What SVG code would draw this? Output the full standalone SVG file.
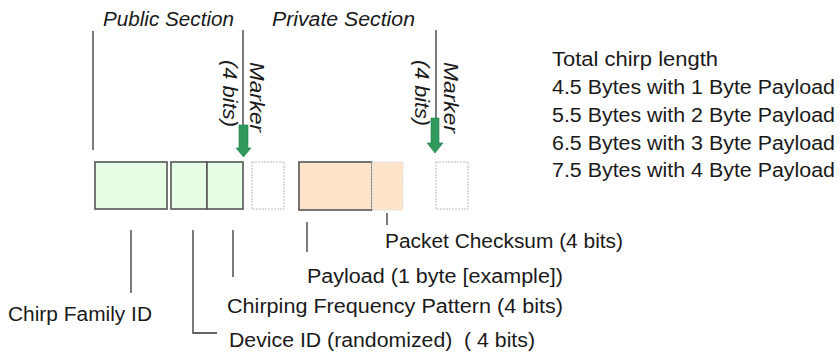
<svg xmlns="http://www.w3.org/2000/svg" width="840" height="355" viewBox="0 0 840 355">
<style>
text{font-family:"Liberation Sans",Arial,sans-serif;font-size:20px;fill:#1a1a1a}
.it{font-style:italic}
.ln{stroke:#333;stroke-width:1.3;fill:none}
.gbox{fill:#e5fce5;stroke:#555;stroke-width:1.6}
.obox{fill:#fde4cb;stroke:#555;stroke-width:1.6}
.olt{fill:#fde4cb;stroke:#ddd;stroke-width:1;stroke-dasharray:2 1}
.empty{fill:#fff;stroke:#bbb;stroke-width:1;stroke-dasharray:2 1}
.arr{fill:#2f9a5c;stroke:#1f7a45;stroke-width:0.6}
</style>
<rect width="840" height="355" fill="#fff"/>
<g id="titles">
<text class="it" x="103" y="26" textLength="131" lengthAdjust="spacingAndGlyphs">Public Section</text>
<text class="it" x="272" y="26" textLength="143" lengthAdjust="spacingAndGlyphs">Private Section</text>
</g>
<g id="chirp-family-id"><rect class="gbox" x="95" y="162" width="72" height="47"/></g>
<g id="device-id"><rect class="gbox" x="171" y="162" width="36" height="47"/></g>
<g id="chirping-frequency-pattern"><rect class="gbox" x="207" y="162" width="36" height="47"/></g>
<g id="marker-1">
<rect class="empty" x="252" y="162" width="32" height="47"/>
<text class="it" transform="translate(250,62) rotate(90)" textLength="70" lengthAdjust="spacingAndGlyphs">Marker</text>
<text class="it" transform="translate(223,60) rotate(90)" textLength="67" lengthAdjust="spacingAndGlyphs">(4 bits)</text>
</g>
<g id="payload"><rect class="obox" x="299" y="162" width="73" height="48"/></g>
<g id="packet-checksum"><rect class="olt" x="372" y="162" width="31" height="48"/></g>
<g id="marker-2">
<rect class="empty" x="436" y="162" width="32" height="47"/>
<text class="it" transform="translate(444,62) rotate(90)" textLength="71" lengthAdjust="spacingAndGlyphs">Marker</text>
<text class="it" transform="translate(415,60) rotate(90)" textLength="66" lengthAdjust="spacingAndGlyphs">(4 bits)</text>
</g>
<g id="connectors">
<line class="ln" x1="93" y1="31" x2="93" y2="150"/>
<line class="ln" x1="243" y1="30" x2="243" y2="125"/>
<line class="ln" x1="436" y1="30" x2="436" y2="118"/>
<path class="arr" d="M239,125 H248 V148 H251 L243.5,157 L236,148 H239 Z"/>
<path class="arr" d="M431,118 H439 V143 H443 L435,153 L427,143 H431 Z"/>
<line class="ln" x1="131" y1="230" x2="131" y2="293"/>
<polyline class="ln" points="193,230 193,333 217,333"/>
<line class="ln" x1="233" y1="230" x2="233" y2="277"/>
<line class="ln" x1="307" y1="222" x2="307" y2="252"/>
<line class="ln" x1="387" y1="213" x2="387" y2="225"/>
</g>
<g id="labels">
<text x="385" y="248" textLength="238" lengthAdjust="spacingAndGlyphs">Packet Checksum (4 bits)</text>
<text x="307" y="283" textLength="256" lengthAdjust="spacingAndGlyphs">Payload (1 byte [example])</text>
<text x="227" y="313" textLength="336" lengthAdjust="spacingAndGlyphs">Chirping Frequency Pattern (4 bits)</text>
<text x="229" y="347" textLength="306" lengthAdjust="spacingAndGlyphs" xml:space="preserve">Device ID (randomized)  ( 4 bits)</text>
<text x="8" y="321" textLength="144" lengthAdjust="spacingAndGlyphs">Chirp Family ID</text>
</g>
<g id="total-length">
<text x="552" y="66" textLength="166" lengthAdjust="spacingAndGlyphs">Total chirp length</text>
<text x="552" y="94" textLength="283" lengthAdjust="spacingAndGlyphs">4.5 Bytes with 1 Byte Payload</text>
<text x="552" y="122" textLength="283" lengthAdjust="spacingAndGlyphs">5.5 Bytes with 2 Byte Payload</text>
<text x="552" y="150" textLength="283" lengthAdjust="spacingAndGlyphs">6.5 Bytes with 3 Byte Payload</text>
<text x="552" y="177" textLength="283" lengthAdjust="spacingAndGlyphs">7.5 Bytes with 4 Byte Payload</text>
</g>
</svg>
